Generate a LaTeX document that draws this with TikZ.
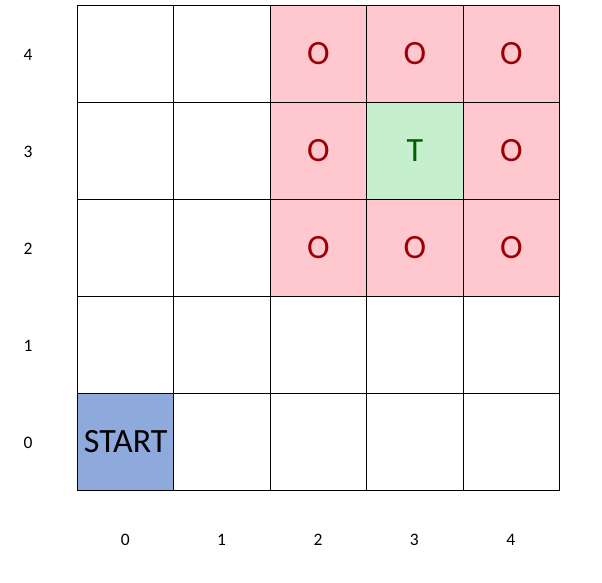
\documentclass[tikz,border=0pt]{standalone}
\usepackage{fontspec}
\setmainfont{Carlito}
\definecolor{badfill}{HTML}{FFC7CE}
\definecolor{badtext}{HTML}{9C0006}
\definecolor{goodfill}{HTML}{C6EFCE}
\definecolor{goodtext}{HTML}{006100}
\definecolor{startfill}{HTML}{8EA9DB}
\begin{document}
\begin{tikzpicture}[x=1pt,y=-1pt,
  cell/.style={draw=black,line width=1pt,minimum width=96.4pt,minimum height=97pt,inner sep=0pt,anchor=center,fill=white},
  obst/.style={cell,fill=badfill,text=badtext,font=\fontsize{34}{38}\selectfont},
  goal/.style={cell,fill=goodfill,text=goodtext,font=\fontsize{34}{38}\selectfont},
  startc/.style={cell,fill=startfill,text=black,font=\fontsize{34}{38}\selectfont},
  axlabel/.style={inner sep=0pt,font=\fontsize{17.5}{19}\selectfont,text=black}]
\fill[white] (0,0) rectangle (602,582);
\useasboundingbox (0,0) rectangle (602,582);
% plain cells
\foreach \i/\j in {0/4,1/4,0/3,1/3,0/2,1/2,0/1,1/1,2/1,3/1,4/1,1/0,2/0,3/0,4/0}{
  \node[cell] (cell-\i-\j) at ({77.5+96.4*(\i+0.5)},{5.5+97*(4-\j)+48.5}) {};
}
% obstacle cells
\foreach \i/\j in {2/4,3/4,4/4,2/3,4/3,2/2,3/2,4/2}{
  \node[obst] (cell-\i-\j) at ({77.5+96.4*(\i+0.5)},{5.5+97*(4-\j)+48.5}) {O};
}
\node[goal] (cell-3-3) at ({77.5+96.4*3.5},{5.5+97*1+48.5}) {T};
\node[startc] (cell-0-0) at ({77.5+96.4*0.5},{5.5+97*4+48.5}) {START};
% row labels
\foreach \j in {0,...,4}{
  \node[axlabel] (rl-\j) at (28,{5.5+97*(4-\j)+48.5+0.5}) {\j};
}
% column labels
\foreach \i in {0,...,4}{
  \node[axlabel] (cl-\i) at ({77.5+96.4*(\i+0.5)-0.5},540) {\i};
}
\end{tikzpicture}
\end{document}
